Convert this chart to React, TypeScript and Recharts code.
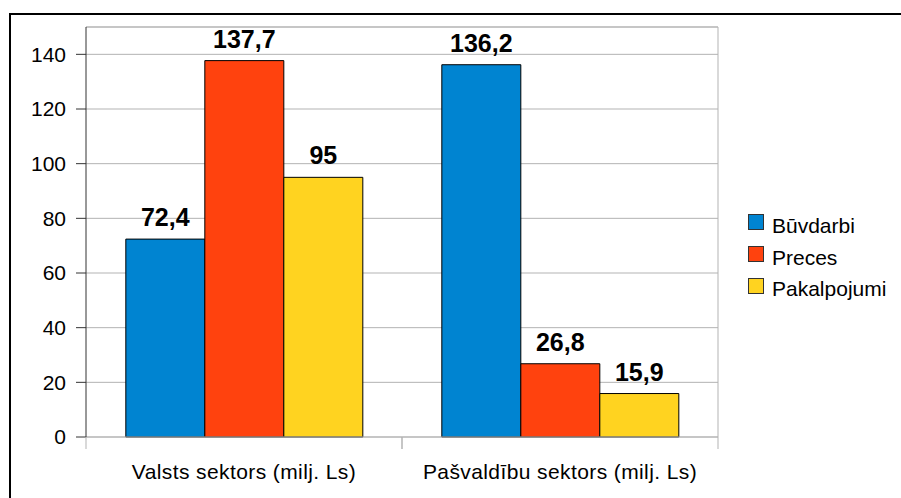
import React from "react";
import { BarChart, Bar, XAxis, YAxis, CartesianGrid, ReferenceLine, LabelList } from "recharts";

const categories = ["Valsts sektors (milj. Ls)", "Pašvaldību sektors (milj. Ls)"];
const buvdarbi = [72.4, 136.2];
const preces = [137.7, 26.8];
const pakalpojumi = [95, 15.9];
const yTicks = [0, 20, 40, 60, 80, 100, 120, 140];

const series = [
  { key: "buvdarbi", name: "Būvdarbi", color: "#0084d1" },
  { key: "preces", name: "Preces", color: "#ff420e" },
  { key: "pakalpojumi", name: "Pakalpojumi", color: "#ffd320" },
];

const data = categories.map((c, i) => ({
  category: c,
  buvdarbi: buvdarbi[i],
  preces: preces[i],
  pakalpojumi: pakalpojumi[i],
}));

const font = '"Liberation Sans", Arial, sans-serif';
const fmt = (v: any) => String(v).replace(".", ",");

// kategoriju etiķete + iedaļas uz joslu robežām
function CatTick(props: any) {
  const { x, y, payload } = props;
  const half = payload && payload.offset ? payload.offset : 158;
  return (
    <g>
      <line x1={x - half} y1={y} x2={x - half} y2={y + 12} stroke="#b3b3b3" />
      <line x1={x + half} y1={y} x2={x + half} y2={y + 12} stroke="#b3b3b3" />
      <text x={x} y={y + 42} textAnchor="middle" fill="#000" fontSize={21} fontFamily={font} letterSpacing={0.4}>
        {payload.value}
      </text>
    </g>
  );
}

export default function App() {
  return (
    <div style={{ position: "absolute", left: 0, top: 0, width: 901, height: 498, overflow: "hidden", background: "#fff", fontFamily: font }}>
      <div style={{ position: "absolute", left: 9, top: 13, width: 1000, height: 1000, borderTop: "2px solid #000", borderLeft: "2px solid #000" }} />
      <div style={{ position: "absolute", left: 0, top: 0 }}>
        <BarChart width={901} height={498} data={data} margin={{ top: 27, right: 183, bottom: 0, left: 0 }} barCategoryGap="12.6%" barGap={0}>
          <CartesianGrid
            horizontal
            vertical
            stroke="#b3b3b3"
            strokeWidth={1}
            verticalCoordinatesGenerator={({ offset }: any) => [offset.left + offset.width]}
          />
          <XAxis dataKey="category" height={61} axisLine={{ stroke: "#b3b3b3" }} tickLine={false} tickSize={0} tickMargin={0} tick={<CatTick />} interval={0} />
          <YAxis width={86} domain={[0, 150]} ticks={yTicks} tickSize={10} tickMargin={10} axisLine={{ stroke: "#333" }} tickLine={{ stroke: "#333" }} tick={{ fill: "#000", fontSize: 21, fontFamily: font }} />
          <ReferenceLine y={150} stroke="#b3b3b3" />
          {series.map((s) => (
            <Bar key={s.key} dataKey={s.key} name={s.name} fill={s.color} stroke="#000" strokeWidth={1} isAnimationActive={false}>
              <LabelList dataKey={s.key} position="top" offset={13} formatter={fmt} style={{ fill: "#000", fontSize: 25, fontWeight: "bold", fontFamily: font }} />
            </Bar>
          ))}
        </BarChart>
      </div>
      {series.map((s, i) => (
        <React.Fragment key={s.key}>
          <div style={{ position: "absolute", left: 748, top: 214 + i * 32, width: 16, height: 16, boxSizing: "border-box", background: s.color, border: "1px solid #333" }} />
          <div style={{ position: "absolute", left: 772, top: 233 + i * 31.5 - 19, fontSize: 21, lineHeight: "24px", height: 24, color: "#000", whiteSpace: "nowrap" }}>{s.name}</div>
        </React.Fragment>
      ))}
    </div>
  );
}
